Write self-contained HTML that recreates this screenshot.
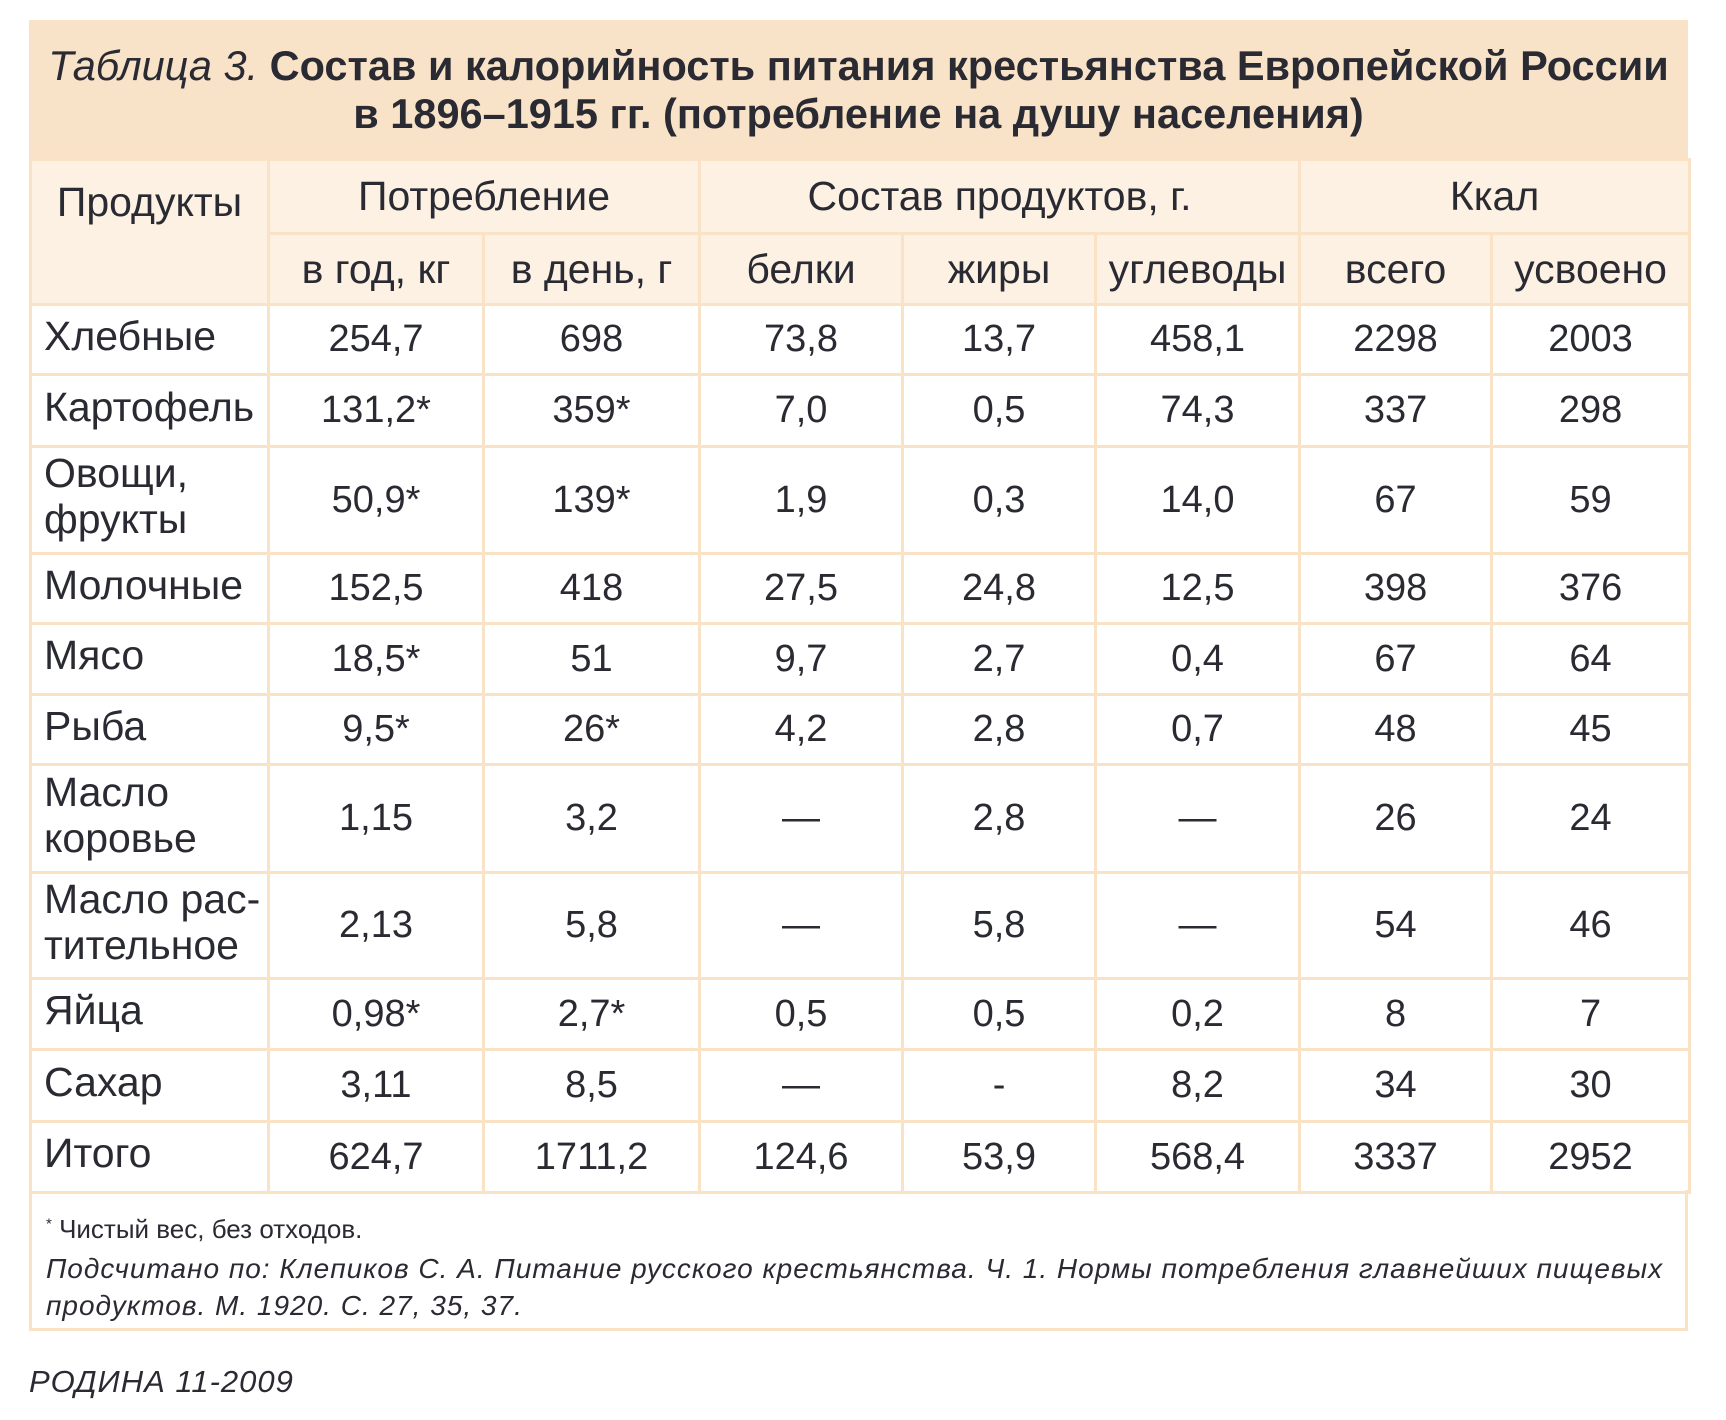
<!DOCTYPE html>
<html><head><meta charset="utf-8"><style>
html,body{margin:0;padding:0;background:#fff;}
body{width:1726px;height:1420px;position:relative;overflow:hidden;font-family:"Liberation Sans","DejaVu Sans",sans-serif;color:#2a2a33;}
#title{position:absolute;left:29px;top:20px;width:1659px;height:140px;background:#f9e3c8;text-align:center;}
#title div{position:absolute;left:0;width:100%;font-size:41.5px;font-weight:bold;white-space:nowrap;}
#title i{font-weight:normal;}
table{position:absolute;left:29px;top:158px;border-collapse:collapse;table-layout:fixed;width:1659px;}
td{border:3px solid #f9e2c6;text-align:center;font-size:38px;padding:0;white-space:nowrap;}
tr.h td{background:#fdf1e3;font-size:41px;}
td.l{text-align:left;padding-left:12px;padding-bottom:8px;line-height:46px;font-size:41px;}
#foot{position:absolute;left:29px;top:1190px;width:1653px;height:138px;border:3px solid #f9e2c6;border-top:none;}
#foot .a{position:absolute;left:14px;top:24px;font-size:26px;}
#foot .b{position:absolute;left:14px;top:60px;font-size:28px;letter-spacing:1px;font-style:italic;line-height:37px;width:1630px;}
#src{position:absolute;left:29px;top:1364px;font-size:31px;letter-spacing:1px;font-style:italic;}
</style></head><body>
<div id="title">
<div style="top:22px"><i>Таблица 3.</i> Состав и калорийность питания крестьянства Европейской России</div>
<div style="top:70px">в 1896–1915 гг. (потребление на душу населения)</div>
</div>
<table>
<colgroup><col style="width:238px"><col style="width:215px"><col style="width:216px"><col style="width:203px"><col style="width:193px"><col style="width:204px"><col style="width:192px"><col style="width:198px"></colgroup>
<tr class="h" style="height:74px"><td rowspan="2" style="vertical-align:top;padding-top:18px">Продукты</td><td colspan="2">Потребление</td><td colspan="3">Состав продуктов, г.</td><td colspan="2">Ккал</td></tr>
<tr class="h" style="height:71px"><td>в год, кг</td><td>в день, г</td><td>белки</td><td>жиры</td><td>углеводы</td><td>всего</td><td>усвоено</td></tr>
<tr style="height:70px"><td class="l">Хлебные</td><td>254,7</td><td>698</td><td>73,8</td><td>13,7</td><td>458,1</td><td>2298</td><td>2003</td></tr>
<tr style="height:72px"><td class="l">Картофель</td><td>131,2*</td><td>359*</td><td>7,0</td><td>0,5</td><td>74,3</td><td>337</td><td>298</td></tr>
<tr style="height:107px"><td class="l">Овощи,<br>фрукты</td><td>50,9*</td><td>139*</td><td>1,9</td><td>0,3</td><td>14,0</td><td>67</td><td>59</td></tr>
<tr style="height:70px"><td class="l">Молочные</td><td>152,5</td><td>418</td><td>27,5</td><td>24,8</td><td>12,5</td><td>398</td><td>376</td></tr>
<tr style="height:71px"><td class="l">Мясо</td><td>18,5*</td><td>51</td><td>9,7</td><td>2,7</td><td>0,4</td><td>67</td><td>64</td></tr>
<tr style="height:70px"><td class="l">Рыба</td><td>9,5*</td><td>26*</td><td>4,2</td><td>2,8</td><td>0,7</td><td>48</td><td>45</td></tr>
<tr style="height:108px"><td class="l">Масло<br>коровье</td><td>1,15</td><td>3,2</td><td>—</td><td>2,8</td><td>—</td><td>26</td><td>24</td></tr>
<tr style="height:106px"><td class="l">Масло рас-<br>тительное</td><td>2,13</td><td>5,8</td><td>—</td><td>5,8</td><td>—</td><td>54</td><td>46</td></tr>
<tr style="height:71px"><td class="l">Яйца</td><td>0,98*</td><td>2,7*</td><td>0,5</td><td>0,5</td><td>0,2</td><td>8</td><td>7</td></tr>
<tr style="height:72px"><td class="l">Сахар</td><td>3,11</td><td>8,5</td><td>—</td><td>-</td><td>8,2</td><td>34</td><td>30</td></tr>
<tr style="height:71px"><td class="l">Итого</td><td>624,7</td><td>1711,2</td><td>124,6</td><td>53,9</td><td>568,4</td><td>3337</td><td>2952</td></tr>
</table>
<div id="foot">
<div class="a"><sup style="font-size:15px">*</sup> Чистый вес, без отходов.</div>
<div class="b">Подсчитано по: Клепиков С. А. Питание русского крестьянства. Ч. 1. Нормы потребления главнейших пищевых<br>продуктов. М. 1920. С. 27, 35, 37.</div>
</div>
<div id="src">РОДИНА 11-2009</div>
</body></html>
